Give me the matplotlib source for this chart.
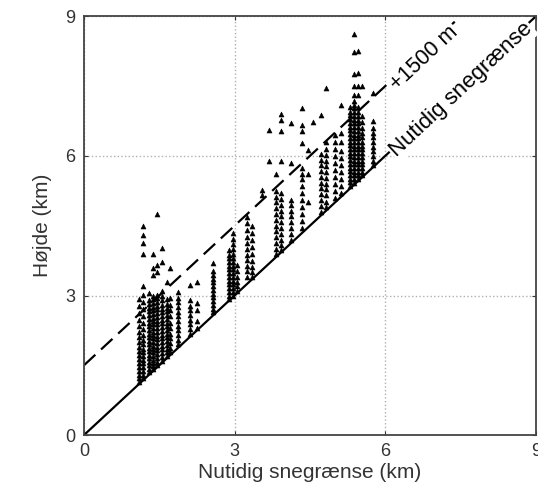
import numpy as np
import matplotlib
matplotlib.use("Agg")
import matplotlib.pyplot as plt

plt.rcParams['font.family'] = ['Liberation Sans', 'DejaVu Sans']

# nutidig snegrænse (km) for hver søjle af punkter
col_x = [1.10, 1.18, 1.30, 1.38, 1.46, 1.55, 1.65, 1.72, 1.88, 2.12, 2.26,
         2.58, 2.88, 2.96, 3.05, 3.25, 3.34, 3.55, 3.68, 3.82, 3.92, 4.12,
         4.34, 4.46, 4.56, 4.72, 4.82, 5.00, 5.12, 5.30, 5.38, 5.46, 5.54, 5.75]

# højde (km) af punkterne i hver søjle
col_y = [
    [1.15, 1.22, 1.30, 1.38, 1.46, 1.55, 1.63, 1.72, 1.80, 1.90, 2.00, 2.10, 2.22, 2.35, 2.48, 2.62, 2.78, 2.92],
    [1.22, 1.30, 1.38, 1.46, 1.54, 1.62, 1.70, 1.78, 1.86, 1.95, 2.05, 2.15, 2.28, 2.42, 2.56, 2.70, 2.85, 3.02, 3.20, 3.90, 4.12, 4.30, 4.50],
    [1.35, 1.42, 1.50, 1.58, 1.65, 1.72, 1.80, 1.88, 1.95, 2.02, 2.10, 2.18, 2.26, 2.34, 2.42, 2.50, 2.58, 2.66, 2.74, 2.82, 2.90, 3.05],
    [1.42, 1.48, 1.55, 1.62, 1.70, 1.78, 1.85, 1.92, 2.00, 2.08, 2.15, 2.22, 2.30, 2.38, 2.45, 2.52, 2.60, 2.68, 2.76, 2.84, 2.92, 3.00, 3.45, 3.60, 3.90],
    [1.50, 1.58, 1.66, 1.74, 1.82, 1.90, 1.98, 2.06, 2.14, 2.22, 2.30, 2.38, 2.46, 2.54, 2.62, 2.70, 2.78, 2.86, 2.94, 3.02, 3.50, 3.65, 4.75],
    [1.60, 1.68, 1.76, 1.84, 1.92, 2.00, 2.08, 2.16, 2.24, 2.32, 2.40, 2.48, 2.56, 2.64, 2.72, 2.80, 2.90, 3.00, 3.10, 3.72, 4.03],
    [1.70, 1.78, 1.86, 1.94, 2.02, 2.10, 2.18, 2.26, 2.34, 2.42, 2.50, 2.58, 2.66, 2.74, 2.82, 2.92, 3.30],
    [1.78, 1.88, 1.98, 2.08, 2.18, 2.30, 2.42, 2.55, 2.68, 2.80, 2.95, 3.60],
    [1.95, 2.05, 2.15, 2.25, 2.35, 2.45, 2.55, 2.65, 2.75, 2.85, 2.95, 3.08],
    [2.18, 2.28, 2.38, 2.48, 2.58, 2.68, 2.78, 2.90, 3.22],
    [2.30, 2.45, 2.68, 2.83, 3.30],
    [2.65, 2.72, 2.80, 2.88, 2.96, 3.04, 3.12, 3.20, 3.28, 3.36, 3.44, 3.52, 3.70],
    [2.92, 3.00, 3.08, 3.16, 3.24, 3.32, 3.40, 3.48, 3.56, 3.64, 3.72, 3.80, 3.88, 3.98],
    [3.00, 3.08, 3.16, 3.24, 3.32, 3.40, 3.48, 3.56, 3.64, 3.72, 3.80, 3.90, 4.00, 4.10, 4.22, 4.35],
    [3.10, 3.20, 3.30, 3.40, 3.52, 3.65],
    [3.40, 3.52, 3.64, 3.76, 3.88, 4.00, 4.12, 4.25, 4.40, 4.55, 4.68],
    [3.40, 3.50, 3.62, 3.75, 3.90, 4.05, 4.20, 4.35, 4.50],
    [5.15, 5.26],
    [5.90, 6.55],
    [3.90, 4.00, 4.12, 4.25, 4.38, 4.50, 4.62, 4.75, 4.88, 5.00, 5.12, 5.25, 5.62],
    [3.98, 4.08, 4.20, 4.32, 4.45, 4.58, 4.70, 4.82, 4.95, 5.08, 5.20, 5.90, 6.53, 6.78, 6.90],
    [4.20, 4.32, 4.45, 4.58, 4.70, 4.82, 4.95, 5.05, 5.85, 6.70],
    [4.46, 4.60, 4.75, 4.90, 5.05, 5.20, 5.35, 5.50, 5.62, 5.75, 6.27, 6.53, 6.67, 7.04],
    [5.00, 5.62, 6.12],
    [6.72],
    [4.80, 4.92, 5.05, 5.18, 5.30, 5.42, 5.55, 5.68, 5.80, 5.92, 6.05, 6.87],
    [4.90, 5.02, 5.15, 5.28, 5.40, 5.52, 5.65, 5.78, 5.90, 6.02, 6.15, 6.30, 7.45],
    [5.10, 5.25, 5.40, 5.55, 5.70, 5.85, 6.00, 6.15, 6.30, 6.45],
    [5.20, 5.35, 5.50, 5.65, 5.80, 5.95, 6.10, 6.30, 6.50, 7.10],
    [5.35, 5.43, 5.51, 5.59, 5.67, 5.75, 5.83, 5.91, 5.99, 6.07, 6.15, 6.23, 6.31, 6.39, 6.47, 6.55, 6.63, 6.71, 6.79, 6.87, 6.95, 7.05],
    [5.42, 5.50, 5.58, 5.66, 5.74, 5.82, 5.90, 5.98, 6.06, 6.14, 6.22, 6.30, 6.38, 6.46, 6.54, 6.62, 6.70, 6.78, 6.86, 6.94, 7.02, 7.10, 7.19, 7.30, 7.50, 7.77, 8.24, 8.63],
    [5.50, 5.58, 5.66, 5.74, 5.82, 5.90, 5.98, 6.06, 6.14, 6.22, 6.30, 6.38, 6.46, 6.54, 6.62, 6.70, 6.78, 6.86, 6.94, 7.05, 7.30, 7.50, 7.78, 8.26],
    [5.58, 5.66, 5.74, 5.82, 5.90, 5.98, 6.06, 6.14, 6.22, 6.30, 6.40, 6.50, 6.60, 6.72, 6.85, 7.50],
    [5.80, 5.90, 6.00, 6.10, 6.20, 6.30, 6.40, 6.50, 6.60, 6.76, 7.36],
]

ticks = [0, 3, 6, 9]
offset = 1.5  # +1500 m

fig = plt.figure(figsize=(5.38, 4.95), dpi=100)
ax = fig.add_axes([0.156, 0.121, 0.840, 0.846])

xs = np.concatenate([[x] * len(ys) for x, ys in zip(col_x, col_y)])
ys = np.concatenate(col_y)
ax.scatter(xs, ys, marker='^', s=13, color='black', linewidths=0.4,
           edgecolors='black', zorder=3)

ax.plot([0, 9], [0, 9], color='black', lw=1.6, zorder=2)
ax.plot([0, 9 - offset], [offset, 9], color='black', lw=1.6,
        linestyle=(0, (7, 3.5)), zorder=2)

box = dict(facecolor='white', edgecolor='none', pad=1)
ax.text(6.78, 8.1, '+1500 m', rotation=43, rotation_mode='anchor',
        ha='center', va='center', fontsize=15.5, bbox=box, zorder=4)
ax.text(7.52, 7.42, 'Nutidig snegrænse', rotation=43, rotation_mode='anchor',
        ha='center', va='center', fontsize=16, bbox=box, zorder=4)

ax.set_xlim(0, 9)
ax.set_ylim(0, 9)
ax.set_xticks(ticks)
ax.set_yticks(ticks)
ax.grid(True, linestyle=':', color='#b0b0b0', linewidth=1)
ax.tick_params(direction='in', length=3, top=True, right=True,
               labelsize=13, colors='#333333', pad=6)
for sp in ax.spines.values():
    sp.set_color('#444444')
    sp.set_linewidth(1.3)

ax.set_xlabel('Nutidig snegrænse (km)', fontsize=15, color='#333333', labelpad=2)
ax.set_ylabel('Højde (km)', fontsize=15, color='#333333', labelpad=10)

fig.savefig('out.png', dpi=100)
